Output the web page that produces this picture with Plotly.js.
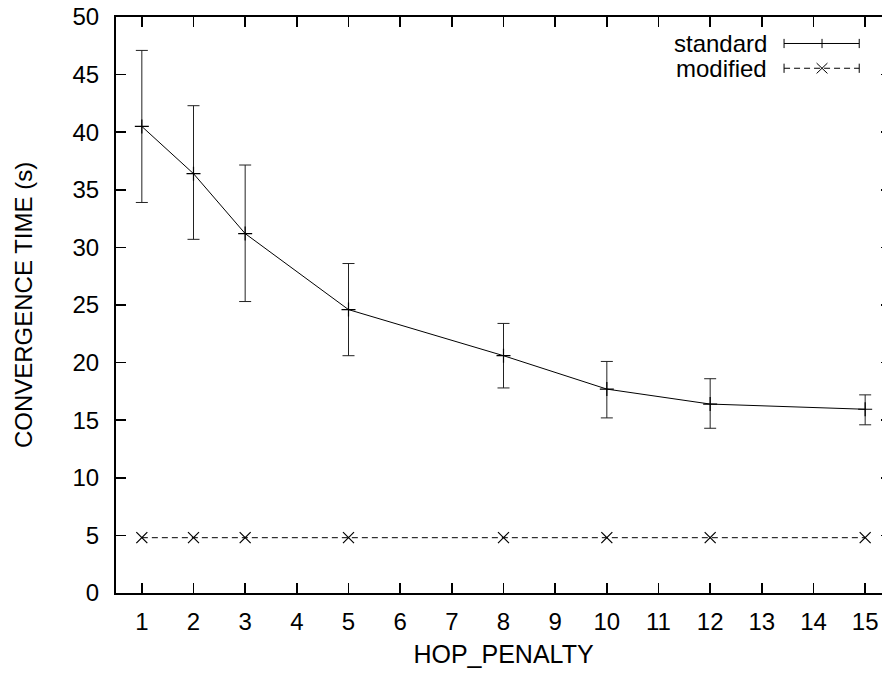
<!DOCTYPE html>
<html><head><meta charset="utf-8">
<script src="https://cdn.plot.ly/plotly-3.0.1.min.js"></script>
<style>html,body{margin:0;padding:0;background:#fff;overflow:hidden}#c{width:891px;height:673px}</style>
</head><body><div id="c"></div>
<script>
const hopPenalty = [1, 2, 3, 5, 8, 10, 12, 15];
const standardMean = [40.5, 36.4, 31.2, 24.6, 20.6, 17.7, 16.4, 15.95];
const standardHigh = [47.1, 42.3, 37.15, 28.6, 23.4, 20.1, 18.6, 17.2];
const standardLow  = [33.9, 30.7, 25.3, 20.6, 17.8, 15.2, 14.3, 14.6];
const modifiedMean = [4.8, 4.8, 4.8, 4.8, 4.8, 4.8, 4.8, 4.8];
const xTicks = [1,2,3,4,5,6,7,8,9,10,11,12,13,14,15];
const yTicks = [0,5,10,15,20,25,30,35,40,45,50];
const seriesNames = ["standard", "modified"];

const errPlus = standardHigh.map((v,i)=>v-standardMean[i]);
const errMinus = standardMean.map((v,i)=>v-standardLow[i]);

const font = "Liberation Sans, Arial, sans-serif";
const dashStyle = '6px,4px';
const traces = [
  {x: hopPenalty, y: standardMean, name: seriesNames[0], type:'scatter', mode:'lines+markers',
   line:{color:'#000', width:1},
   marker:{symbol:'cross-thin', size:10, line:{color:'#000', width:1.2}},
   error_y:{type:'data', symmetric:false, array:errPlus, arrayminus:errMinus, color:'#222', thickness:1, width:6},
   showlegend:false},
  {x: hopPenalty, y: modifiedMean, name: seriesNames[1], type:'scatter', mode:'lines+markers',
   line:{color:'#000', width:1, dash:dashStyle},
   marker:{symbol:'x-thin', size:11, line:{color:'#000', width:1.2}},
   showlegend:false}
];

// Legend drawn in paper coordinates
const legY = [0.954, 0.911];
const cap = 0.008;
const sx0 = 0.862, sx1 = 0.959, sxm = 0.911;
const shapes = [
  {type:'line', xref:'paper', yref:'paper', x0:sx0, x1:sx1, y0:legY[0], y1:legY[0], line:{color:'#000', width:1}},
  {type:'line', xref:'paper', yref:'paper', x0:sx0, x1:sx0, y0:legY[0]-cap, y1:legY[0]+cap, line:{color:'#000', width:1}},
  {type:'line', xref:'paper', yref:'paper', x0:sx1, x1:sx1, y0:legY[0]-cap, y1:legY[0]+cap, line:{color:'#000', width:1}},
  {type:'line', xref:'paper', yref:'paper', x0:sxm, x1:sxm, y0:legY[0]-cap, y1:legY[0]+cap, line:{color:'#000', width:1}},
  {type:'line', xref:'paper', yref:'paper', x0:sx0, x1:sx1, y0:legY[1], y1:legY[1], line:{color:'#000', width:1, dash:dashStyle}},
  {type:'line', xref:'paper', yref:'paper', x0:sx0, x1:sx0, y0:legY[1]-cap, y1:legY[1]+cap, line:{color:'#000', width:1}},
  {type:'line', xref:'paper', yref:'paper', x0:sx1, x1:sx1, y0:legY[1]-cap, y1:legY[1]+cap, line:{color:'#000', width:1}},
  {type:'line', xref:'paper', yref:'paper', x0:sxm-0.007, x1:sxm+0.007, y0:legY[1]-0.009, y1:legY[1]+0.009, line:{color:'#000', width:1}},
  {type:'line', xref:'paper', yref:'paper', x0:sxm-0.007, x1:sxm+0.007, y0:legY[1]+0.009, y1:legY[1]-0.009, line:{color:'#000', width:1}}
];
const annotations = seriesNames.map((n,i)=>({
  text:n, xref:'paper', yref:'paper', x:0.842, y:legY[i], xanchor:'right', yanchor:'middle',
  height:23, showarrow:false, font:{family:font, size:24, color:'#000'}
}));

const layout = {
  width:891, height:673,
  margin:{l:116, r:0, t:17, b:80},
  paper_bgcolor:'#fff', plot_bgcolor:'#fff',
  font:{family:font, size:24, color:'#000'},
  xaxis:{range:[0.5, 15.5], tickvals:xTicks, ticktext:xTicks.map(String),
    ticks:'inside', ticklen:10, tickwidth:1.5, tickcolor:'#000',
    showline:true, linecolor:'#000', linewidth:2, mirror:'ticks',
    showgrid:false, zeroline:false, ticklabelstandoff:6, automargin:false,
    tickfont:{family:font, size:24},
    title:{text:'HOP_PENALTY', font:{family:font, size:25}, standoff:12}},
  yaxis:{range:[0, 50], tickvals:yTicks, ticktext:yTicks.map(String),
    ticks:'inside', ticklen:10, tickwidth:1.5, tickcolor:'#000',
    showline:true, linecolor:'#000', linewidth:2, mirror:'ticks',
    showgrid:false, zeroline:false, ticklabelstandoff:10, automargin:false,
    tickfont:{family:font, size:24},
    title:{text:'CONVERGENCE TIME (s)', font:{family:font, size:24}, standoff:33}},
  shapes, annotations, showlegend:false
};
Plotly.newPlot('c', traces, layout, {displayModeBar:false, staticPlot:true});
</script></body></html>
